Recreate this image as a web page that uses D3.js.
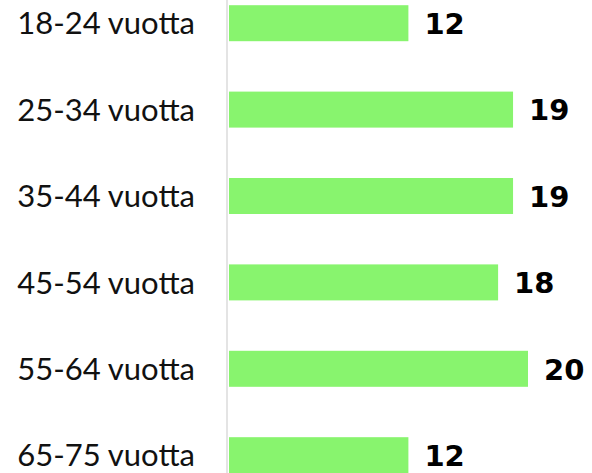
<!DOCTYPE html>
<html>
<head>
<meta charset="utf-8">
<script src="https://cdn.jsdelivr.net/npm/d3@7"></script>
<style>
  body { margin: 0; background: #fff; }
  svg { display: block; }
</style>
</head>
<body>
<svg id="chart" width="592" height="473"></svg>
<script>
// age groups and their values
var categories = ["18-24 vuotta", "25-34 vuotta", "35-44 vuotta", "45-54 vuotta", "55-64 vuotta", "65-75 vuotta"];
var values = [12, 19, 19, 18, 20, 12];

var svg = d3.select("#chart");
var width = 592, height = 473;

// x starts at the axis line
var x = d3.scaleLinear().domain([0, 20]).range([229, 528]);
var y = d3.scaleBand().domain(categories).range([5 - 25, 5 - 25 + 86.4 * 6]).paddingInner(0.5833).paddingOuter(0.2917);

// light vertical axis line
svg.append("line")
    .attr("x1", 227).attr("x2", 227)
    .attr("y1", 0).attr("y2", height)
    .attr("stroke", "#e4e4e4")
    .attr("stroke-width", 2);

var rows = svg.selectAll("g.row")
    .data(categories)
    .enter().append("g")
    .attr("class", "row");

rows.append("rect")
    .attr("x", x(0))
    .attr("y", function(d) { return y(d); })
    .attr("width", function(d, i) { return x(values[i]) - x(0); })
    .attr("height", y.bandwidth())
    .attr("fill", "#88f46e");

rows.append("text")
    .attr("x", 195)
    .attr("y", function(d) { return y(d) + y.bandwidth() / 2; })
    .attr("dy", "0.36em")
    .attr("text-anchor", "end")
    .style("font-family", "Lato, sans-serif")
    .style("font-size", "31px")
    .attr("fill", "#111")
    .text(function(d) { return d; });

rows.append("text")
    .attr("x", function(d, i) { return x(values[i]) + 16; })
    .attr("y", function(d) { return y(d) + y.bandwidth() / 2; })
    .attr("dy", "0.37em")
    .style("font-family", "'DejaVu Sans', sans-serif")
    .style("font-weight", "bold")
    .style("font-size", "29px")
    .attr("fill", "#000")
    .text(function(d, i) { return values[i]; });
</script>
</body>
</html>
